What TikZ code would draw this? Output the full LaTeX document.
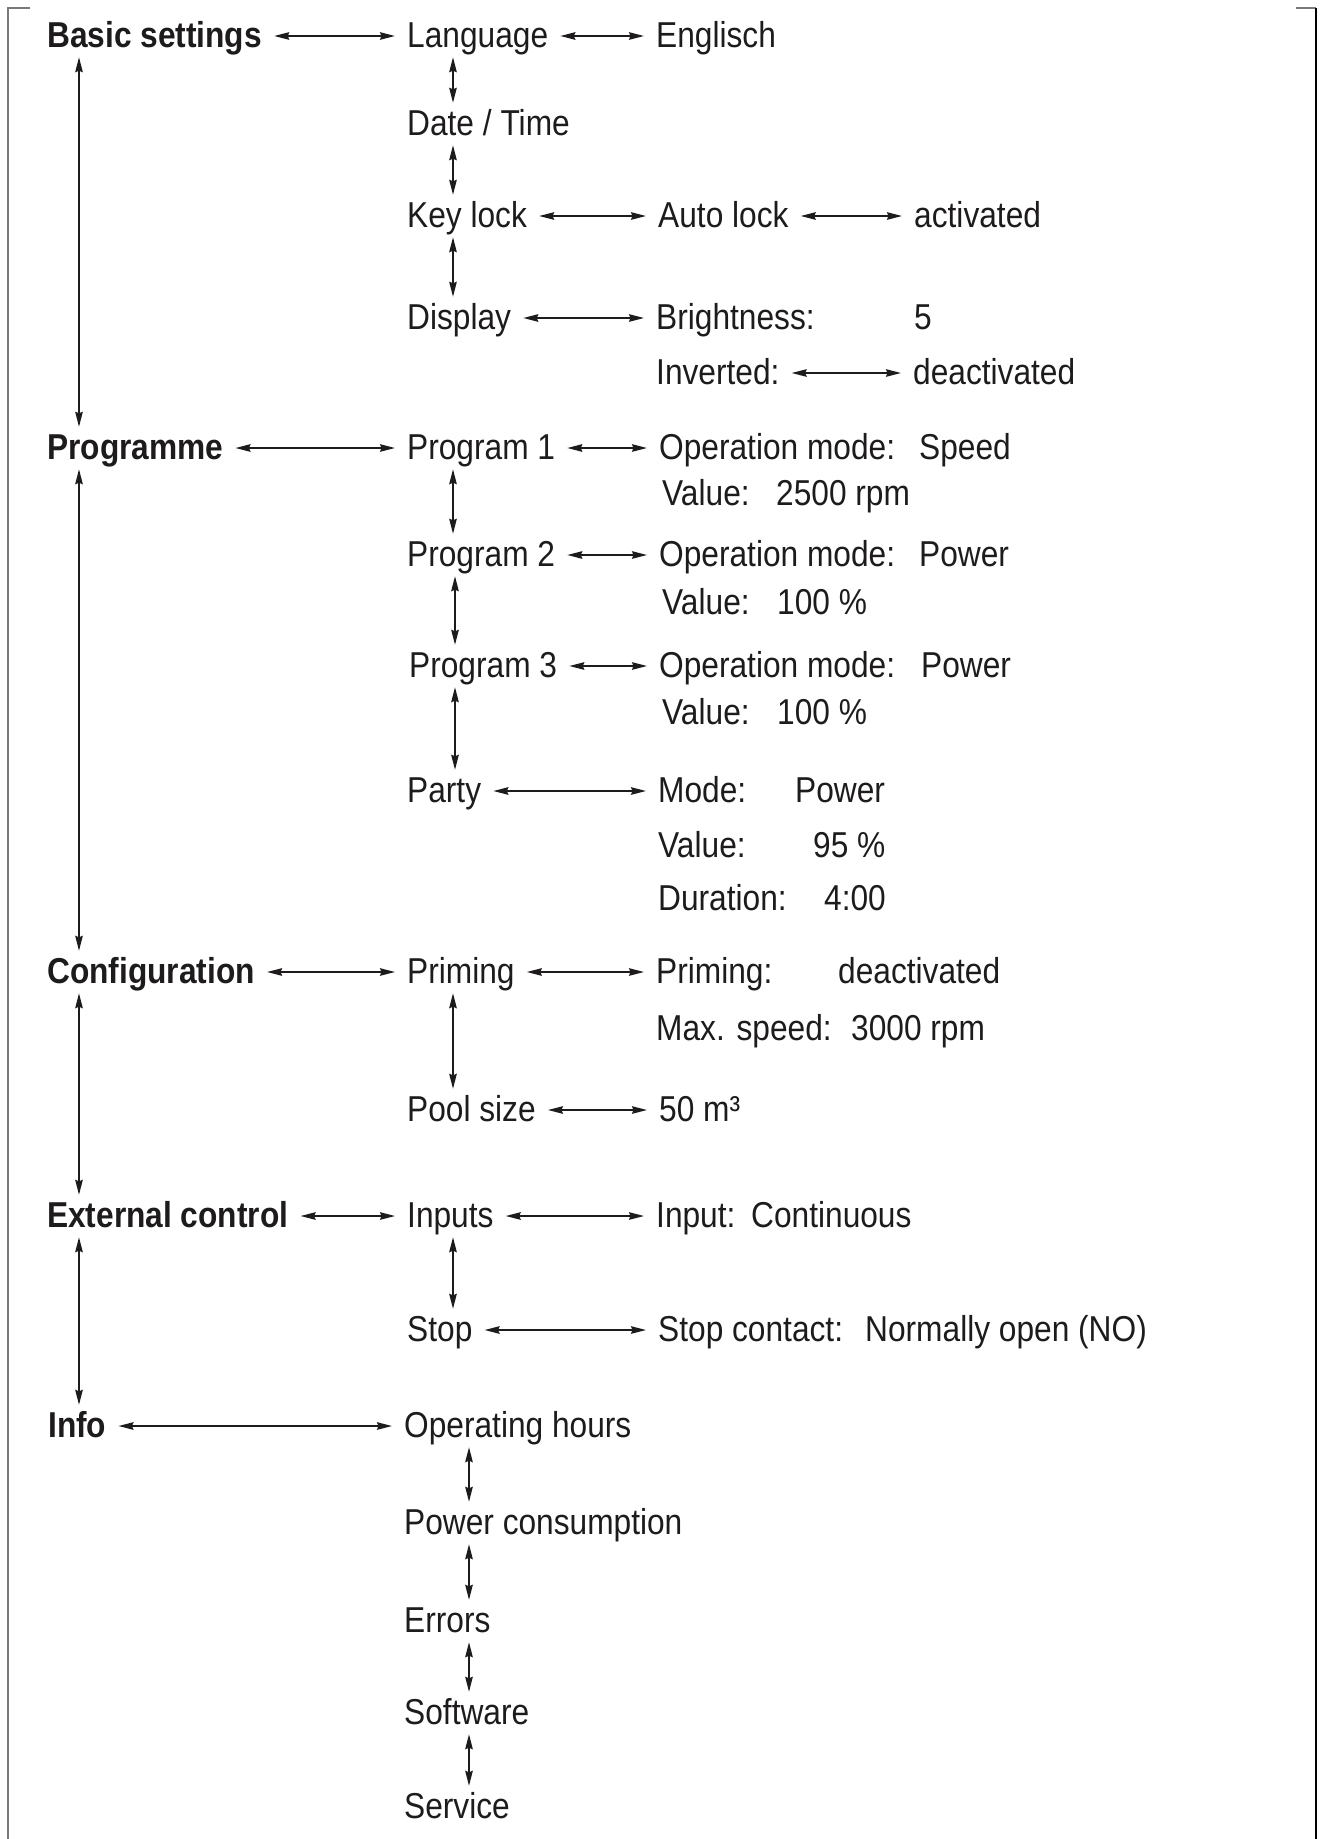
\documentclass[tikz,border=0pt]{standalone}
\usepackage{fontspec}
\setmainfont{Liberation Sans}[FakeStretch=0.88]
\usepackage{tikz}
\usetikzlibrary{arrows.meta}
\definecolor{ink}{HTML}{1E1B1C}
\definecolor{rule}{HTML}{7A7A7A}
\tikzstyle{item} = [anchor=base west, xshift=-12pt, yshift=-2pt, inner xsep=12pt, inner ysep=2pt,
  text height=30pt, text depth=8pt, text=ink, font=\fontsize{36}{40}\selectfont]
\tikzstyle{head} = [item, font=\fontsize{36}{40}\selectfont\bfseries]
\tikzstyle{link} = [draw=ink, line width=1.7pt, <->]

\begin{document}
\begin{tikzpicture}[x=1pt, y=-1pt, >={Stealth[length=15pt,width=7.5pt,inset=1.5pt]}]
    \useasboundingbox (0,0) rectangle (1320,1839);
    % frame
    \draw[rule, line width=2pt] (30,8) -- (8,8) -- (8,1839);
    \draw[rule, line width=2pt] (1296,8) -- (1316,8);
    \draw[black, line width=2.5pt] (1316,8) -- (1316,1839);
    % columns of the vertical links
    \coordinate (cA) at (79,0);
    \coordinate (cB) at (453,0);
    \coordinate (cC) at (469,0);
    % main menu
    \node[head] (bs)  at (47,45)   {Basic settings};
    \node[head] (prg) at (47,457)  {Programme};
    \node[head] (cfg) at (47,981)  {Configuration};
    \node[head] (ext) at (47,1225) {External control};
    \node[head] (inf) at (48,1435) {Info};
    % sub menus
    \node[item] (lang)  at (407,45)   {Language};
    \node[item] (date)  at (407,133)  {Date / Time};
    \node[item] (keyl)  at (407,225)  {Key lock};
    \node[item] (disp)  at (407,327)  {Display};
    \node[item] (p1)    at (407,457)  {Program 1};
    \node[item] (p2)    at (407,564)  {Program 2};
    \node[item] (p3)    at (409,675)  {Program 3};
    \node[item] (party) at (407,800)  {Party};
    \node[item] (prim)  at (407,981)  {Priming};
    \node[item] (pool)  at (407,1119) {Pool size};
    \node[item] (inp)   at (407,1225) {Inputs};
    \node[item] (stop)  at (407,1339) {Stop};
    \node[item] (oph)   at (404,1435) {Operating hours};
    \node[item] (pwr)   at (404,1532) {Power consumption};
    \node[item] (err)   at (404,1630) {Errors};
    \node[item] (sw)    at (404,1722) {Software};
    \node[item] (svc)   at (404,1816) {Service};
    % settings
    \node[item] (eng)    at (656,45)  {Englisch};
    \node[item] (auto)   at (658,225) {Auto lock};
    \node[item] (act)    at (914,225) {activated};
    \node[item] (bright) at (656,327) {Brightness:};
    \node[item] (brv)    at (914,327) {5};
    \node[item] (inv)    at (656,382) {Inverted:};
    \node[item] (invv)   at (913,382) {deactivated};
    \node[item] (om1)  at (659,457) {Operation mode:};
    \node[item] (om1v) at (919,457) {Speed};
    \node[item] (va1)  at (662,503) {Value:};
    \node[item] (va1v) at (776,503) {2500 rpm};
    \node[item] (om2)  at (659,564) {Operation mode:};
    \node[item] (om2v) at (919,564) {Power};
    \node[item] (va2)  at (662,612) {Value:};
    \node[item] (va2v) at (777,612) {100 \%};
    \node[item] (om3)  at (659,675) {Operation mode:};
    \node[item] (om3v) at (921,675) {Power};
    \node[item] (va3)  at (662,722) {Value:};
    \node[item] (va3v) at (777,722) {100 \%};
    \node[item] (mode)  at (658,800) {Mode:};
    \node[item] (modev) at (795,800) {Power};
    \node[item] (vap)   at (658,855) {Value:};
    \node[item] (vapv)  at (813,855) {95 \%};
    \node[item] (dur)   at (658,908) {Duration:};
    \node[item] (durv)  at (824,908) {4:00};
    \node[item] (prs)   at (656,981)  {Priming:};
    \node[item] (prsv)  at (838,981)  {deactivated};
    \node[item] (maxs)  at (656,1038) {Max. speed:};
    \node[item] (maxsv) at (851,1038) {3000 rpm};
    \node[item] (vol)   at (659,1119) {50 m³};
    \node[item] (inm)   at (656,1225) {Input:};
    \node[item] (inmv)  at (751,1225) {Continuous};
    \node[item] (stc)   at (658,1339) {Stop contact:};
    \node[item] (stcv)  at (865,1339) {Normally open (NO)};
    \draw
    (bs) edge[link] (lang)
    (prg) edge[link] (p1)
    (cfg) edge[link] (prim)
    (ext) edge[link] (inp)
    (inf) edge[link] (oph)
    (lang) edge[link] (eng)
    (keyl) edge[link] (auto)
    (auto) edge[link] (act)
    (disp) edge[link] (bright)
    (inv) edge[link] (invv)
    (p1) edge[link] (om1)
    (p2) edge[link] (om2)
    (p3) edge[link] (om3)
    (party) edge[link] (mode)
    (prim) edge[link] (prs)
    (pool) edge[link] (vol)
    (inp) edge[link] (inm)
    (stop) edge[link] (stc)
    (bs.south -| cA) edge[link] (prg.north -| cA)
    (prg.south -| cA) edge[link] (cfg.north -| cA)
    (cfg.south -| cA) edge[link] (ext.north -| cA)
    (ext.south -| cA) edge[link] (inf.north -| cA)
    (lang.south -| cB) edge[link] (date.north -| cB)
    (date.south -| cB) edge[link] (keyl.north -| cB)
    (keyl.south -| cB) edge[link] (disp.north -| cB)
    (p1.south -| cB) edge[link] (p2.north -| cB)
    ([xshift=2pt]p2.south -| cB) edge[link] ([xshift=2pt]p3.north -| cB)
    ([xshift=2pt]p3.south -| cB) edge[link] ([xshift=2pt]party.north -| cB)
    (prim.south -| cB) edge[link] (pool.north -| cB)
    (inp.south -| cB) edge[link] (stop.north -| cB)
    (oph.south -| cC) edge[link] (pwr.north -| cC)
    (pwr.south -| cC) edge[link] (err.north -| cC)
    (err.south -| cC) edge[link] (sw.north -| cC)
    (sw.south -| cC) edge[link] (svc.north -| cC)
    ;
\end{tikzpicture}
\end{document}
